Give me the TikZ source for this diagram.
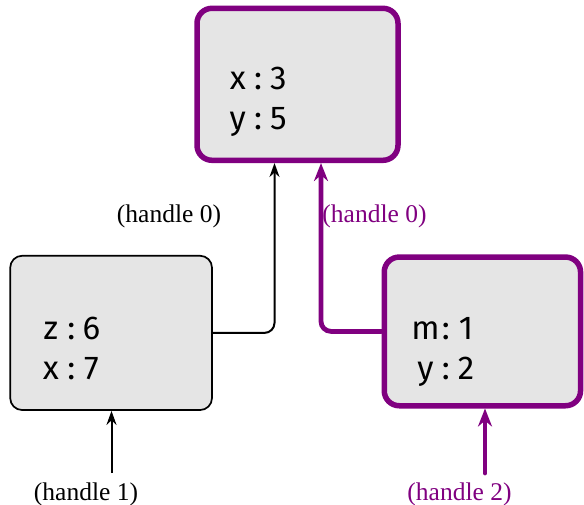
\documentclass[tikz,border=0pt]{standalone}
\usepackage{fontspec}
\setmainfont{Liberation Serif}
\newfontfamily\cellfont{Fira Sans}
\usetikzlibrary{arrows.meta}
\definecolor{hpurple}{HTML}{800080}
\definecolor{boxfill}{HTML}{E5E5E5}
\newcommand\cellch[1]{\makebox[20.3pt]{#1}}
\newcommand\cellrow[3]{\cellch{#1}\cellch{#2}\cellch{#3}}
\begin{document}
\begin{tikzpicture}[x=1pt,y=-1pt,
 cellbox/.style={draw, fill=boxfill, inner sep=0pt, anchor=center},
 plainbox/.style={cellbox, line width=1.7pt, rounded corners=12pt},
 hotbox/.style={cellbox, draw=hpurple, line width=5.5pt, rounded corners=15pt},
 boxtext/.style={font=\cellfont\fontsize{33}{40}\selectfont, align=left, anchor=base west, inner sep=0pt},
 lbl/.style={font=\fontsize{25.5}{30}\selectfont, anchor=base, inner sep=0pt},
 plainarrow/.style={draw=black, line width=2pt, -{Stealth[length=14pt,width=10pt]}},
 hotarrow/.style={draw=hpurple, line width=4.8pt, line cap=round, -{Stealth[length=18pt,width=14pt]}},
]
\useasboundingbox (0,0) rectangle (584,505);

% boxes
\node[hotbox, minimum width=201pt, minimum height=152pt] (T) at (297.5,84.3) {};
\node[plainbox, minimum width=201.8pt, minimum height=154.3pt] (L) at (111.1,332.9) {};
\node[hotbox, minimum width=196.3pt, minimum height=148.7pt] (R) at (482.4,331.4) {};

% box contents (anchor = baseline of last line)
\node[boxtext] (Tt) at (227.5,130) {\cellrow{x}{:}{3}\\\cellrow{y}{:}{5}};
\node[boxtext] (Lt) at (40.6,379.3) {\cellrow{z}{:}{6}\\\cellrow{x}{:}{7}};
\node[boxtext] (Rt) at (415.2,379.8) {\cellrow{m}{:}{1}\\\cellrow{y}{:}{2}};

% connectors between boxes
\draw[plainarrow, rounded corners=10pt] (L.east) -| ([xshift=-23pt]T.south);
\draw[hotarrow, rounded corners=10pt] (R.west) -| ([xshift=23.5pt]T.south);

% edge labels
\node[lbl] (e0) at (169,223) {(handle 0)};
\node[lbl, text=hpurple] (e0p) at (374.5,223) {(handle 0)};

% handle labels and arrows
\node[lbl] (h1) at (86,500) {(handle 1)};
\node[lbl, text=hpurple] (h2) at (459.5,500) {(handle 2)};
\coordinate (a1) at (111.5,473);
\coordinate (a2) at (485,473);
\draw[plainarrow] (a1) -- (a1 |- L.south);
\draw[hotarrow] (a2) -- (a2 |- R.south);
\end{tikzpicture}
\end{document}
